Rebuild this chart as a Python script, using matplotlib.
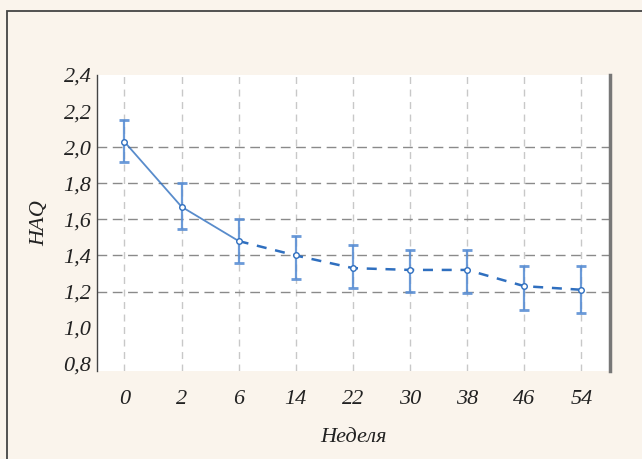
#! /usr/bin/env python3

import matplotlib
matplotlib.use("Agg")
import matplotlib.pyplot as plt
from matplotlib.patches import Rectangle
import numpy as np


weeks = ["0", "2", "6", "14", "22", "30", "38", "46", "54"]
haq_mean = [2.03, 1.67, 1.48, 1.40, 1.33, 1.32, 1.32, 1.23, 1.21]
haq_upper = [2.15, 1.80, 1.60, 1.51, 1.46, 1.43, 1.43, 1.34, 1.34]
haq_lower = [1.92, 1.545, 1.36, 1.27, 1.22, 1.20, 1.19, 1.10, 1.08]
y_ticks = [0.8, 1.0, 1.2, 1.4, 1.6, 1.8, 2.0, 2.2, 2.4]

bg = "#faf4ec"
blue = "#2f6fbf"
serif = ["Liberation Serif", "DejaVu Serif"]

fig = plt.figure(figsize=(6.42, 4.59), dpi=100, facecolor=bg)
# outer frame of the figure panel
fig.patches.append(Rectangle((7 / 642, -0.1), 1.2, 1 - 11 / 459 + 0.1,
                             transform=fig.transFigure, fill=False,
                             edgecolor="#444444", linewidth=1.3))

ax = fig.add_axes([97 / 642, 1 - 371 / 459, 513 / 642, 296 / 459])
ax.set_facecolor("white")

x = np.arange(len(weeks))
mean = np.array(haq_mean)
lo = mean - np.array(haq_lower)
hi = np.array(haq_upper) - mean

# grid
for xi in x:
    ax.axvline(xi, color="#c8c8c8", linestyle=(0, (5, 4)), linewidth=1.0, zorder=0)
for yv in y_ticks[2:7]:
    ax.axhline(yv, color="#8a8a8a", linestyle=(0, (7, 4)), linewidth=1.0, zorder=0)

# error bars
ax.errorbar(x, mean, yerr=[lo, hi], fmt="none", ecolor="#5b8fd4",
            elinewidth=1.6, capsize=3.5, capthick=2.0, alpha=0.9, zorder=2)

# mean line: solid for the first weeks, dashed afterwards
ax.plot(x[:3], mean[:3], color=blue, linewidth=1.3, alpha=0.8, zorder=3)
ax.plot(x[2:], mean[2:], color=blue, linewidth=1.8, linestyle=(0, (4, 3.5)), zorder=3)
ax.plot(x, mean, linestyle="none", marker="o", markersize=4,
        markerfacecolor="white", markeredgecolor=blue, markeredgewidth=1.0, zorder=4)

ax.set_xlim(-0.48, 8.5)
ax.set_ylim(0.76, 2.4)
ax.set_xticks(x)
ax.set_xticklabels(weeks)
ax.set_yticks(y_ticks)
ax.set_yticklabels([f"{v:.1f}".replace(".", ",") for v in y_ticks])

for lbl in ax.get_xticklabels() + ax.get_yticklabels():
    lbl.set_family(serif)
    lbl.set_style("italic")
    lbl.set_fontsize(16)
    lbl.set_color("#222222")

ax.tick_params(axis="x", length=0, pad=14)
ax.tick_params(axis="y", length=0, pad=4)

for side in ["top", "bottom"]:
    ax.spines[side].set_visible(False)
ax.spines["left"].set_color("#444444")
ax.spines["left"].set_linewidth(1.0)
ax.spines["right"].set_color("#777777")
ax.spines["right"].set_linewidth(2.5)

ax.set_xlabel("Неделя", family=serif, style="italic", fontsize=16,
              color="#222222", labelpad=13)
ax.set_ylabel("HAQ", family=serif, style="italic", fontsize=16,
              color="#222222", labelpad=10)

fig.savefig("out.png", dpi=100, facecolor=bg)
